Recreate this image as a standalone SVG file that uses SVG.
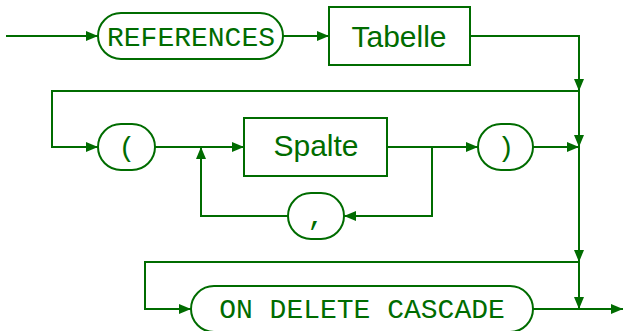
<svg xmlns="http://www.w3.org/2000/svg" width="623" height="331" viewBox="0 0 623 331">
<defs>
<marker id="ah" markerWidth="12" markerHeight="10" refX="12" refY="5" orient="auto" markerUnits="userSpaceOnUse">
<path d="M0,0 L12,5 L0,10 Z" fill="#006c00"/>
</marker>
<style>
.ln{fill:none;stroke:#006c00;stroke-width:2;}
.a{marker-end:url(#ah);}
.nd{fill:#fff;stroke:#006c00;stroke-width:2;}
.tt{font-family:"Liberation Mono","DejaVu Sans Mono",monospace;font-size:28px;fill:#006c00;text-anchor:middle;}
.ss{font-family:"Liberation Sans","DejaVu Sans",sans-serif;font-size:30px;fill:#006c00;text-anchor:middle;}
</style>
</defs>
<rect width="623" height="331" fill="#fff"/>
<g id="connectors">
<path class="ln a" d="M6,36 H98"/>
<path class="ln a" d="M283,36 H329"/>
<path class="ln a" d="M470,36 H579 V91"/>
<path class="ln a" d="M579,91 H52 V147 H98"/>
<path class="ln a" d="M155,147 H244"/>
<path class="ln a" d="M579,91 V147"/>
<path class="ln a" d="M533,147 H579"/>
<path class="ln a" d="M387,147 H478"/>
<path class="ln a" d="M432,147 V216 H344"/>
<path class="ln a" d="M288,216 H201 V147"/>
<path class="ln a" d="M579,147 V262"/>
<path class="ln a" d="M579,262 H145 V309 H191"/>
<path class="ln a" d="M579,262 V309"/>
<path class="ln a" d="M533,309 H623"/>
</g>
<g id="node-references">
<rect class="nd" x="98" y="13" width="185" height="46" rx="23"/>
<text class="tt" x="191" y="46">REFERENCES</text>
</g>
<g id="node-tabelle">
<rect class="nd" x="329" y="7" width="141" height="58"/>
<text class="ss" x="399" y="47">Tabelle</text>
</g>
<g id="node-lparen">
<rect class="nd" x="98" y="124" width="57" height="46" rx="23"/>
<text class="tt" x="127" y="156">(</text>
</g>
<g id="node-spalte">
<rect class="nd" x="244" y="118" width="143" height="58"/>
<text class="ss" x="316" y="156">Spalte</text>
</g>
<g id="node-rparen">
<rect class="nd" x="478" y="124" width="55" height="46" rx="23"/>
<text class="tt" x="506" y="156">)</text>
</g>
<g id="node-comma">
<rect class="nd" x="288" y="193" width="56" height="46" rx="23"/>
<text class="tt" x="316" y="225">,</text>
</g>
<g id="node-ondelete">
<rect class="nd" x="191" y="286" width="342" height="46" rx="23"/>
<text class="tt" x="362" y="318">ON DELETE CASCADE</text>
</g>
</svg>
